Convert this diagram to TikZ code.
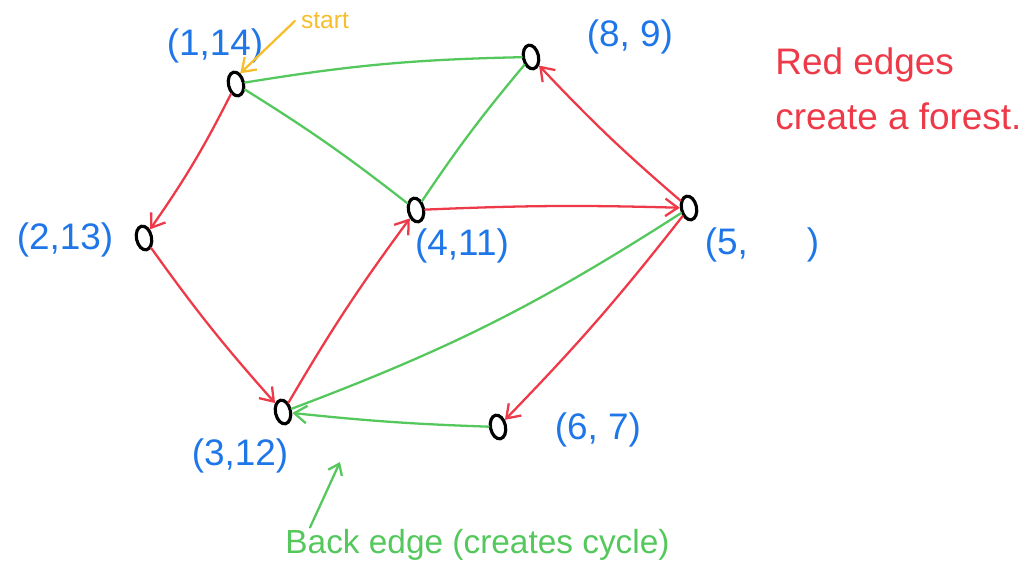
\documentclass[tikz,border=0pt]{standalone}
\usepackage{fontspec}
\setmainfont{Liberation Sans}
\usetikzlibrary{arrows.meta,calc,positioning,shapes.geometric}
\definecolor{penred}{RGB}{238,58,72}
\definecolor{pengreen}{RGB}{84,200,92}
\definecolor{penblue}{RGB}{30,118,232}
\definecolor{penyellow}{RGB}{246,190,44}
\begin{document}
\begin{tikzpicture}[line cap=round,
  vtx/.style={draw, ellipse, line width=1.8pt, minimum width=0.3cm, minimum height=0.48cm, inner sep=0pt, rotate=12},
  lbl/.style={text=penblue, font=\fontsize{21}{24}\selectfont},
  tree/.style={draw=penred, line width=1.3pt, -{Straight Barb[length=2.5mm,width=3.5mm]}},
  other/.style={draw=pengreen, line width=1.3pt},
  back/.style={other, -{Straight Barb[length=2.5mm,width=3.5mm]}}]
\useasboundingbox (0,0) rectangle (20.6,-11.66);
\node[vtx] (n1) at (4.72,-1.68) {};
\node[vtx] (n8) at (10.62,-1.14) {};
\node[vtx] (n2) at (2.88,-4.76) {};
\node[vtx] (n4) at (8.32,-4.2) {};
\node[vtx] (n5) at (13.78,-4.16) {};
\node[vtx] (n3) at (5.66,-8.24) {};
\node[vtx] (n6) at (9.96,-8.54) {};
\node[lbl] (l1) at (4.3,-0.92) {(1,14)};
\node[lbl] (l8) at (12.6,-0.74) {(8, 9)};
\node[lbl] (l2) at (1.3,-4.8) {(2,13)};
\node[lbl] (l4) at (9.24,-4.92) {(4,11)};
\node[lbl] (l5) at (15.24,-4.9) {(5,\hspace{1.6em})};
\node[lbl] (l3) at (4.8,-9.12) {(3,12)};
\node[lbl] (l6) at (11.96,-8.6) {(6, 7)};
\node[text=penyellow, font=\fontsize{14}{16}\selectfont] (start) at (6.5,-0.42) {start};
\node[text=penred, font=\fontsize{21}{31}\selectfont, align=left, anchor=north west, inner sep=0pt] (note) at (15.5,-0.95) {Red edges\\create a forest.};
\node[text=pengreen, font=\fontsize{19}{22}\selectfont] (backnote) at (9.55,-10.9) {Back edge (creates cycle)};
\coordinate (tip) at (6.8,-9.24);
\coordinate (foot) at (6.2,-10.55);
% tree edges
\draw[tree] (n1) to[bend left=4] (n2);
\draw[tree] (n2) to[bend right=3] (n3);
\draw[tree] (n3) to[bend left=3] (n4);
\draw[tree] (n4) to[bend left=2] (n5);
\draw[tree] (n5) to[bend left=3] (n8);
\draw[tree] (n5) to[bend left=3] (n6);
% other edges
\draw[other] (n1) to[bend left=4] (n8);
\draw[other] (n1) to[bend left=3] (n4);
\draw[other] (n8) to[bend right=3] (n4);
\draw[other] (n5) to[bend left=6] (n3);
\draw[back] (n6) to[bend left=2] (n3);
\draw[other, -{Straight Barb[length=2mm,width=3mm]}] (foot) -- (tip);
\draw[draw=penyellow, line width=1.3pt, -{Straight Barb[length=2.5mm,width=3.5mm]}] (start.west) -- (n1.north east);
\end{tikzpicture}
\end{document}
